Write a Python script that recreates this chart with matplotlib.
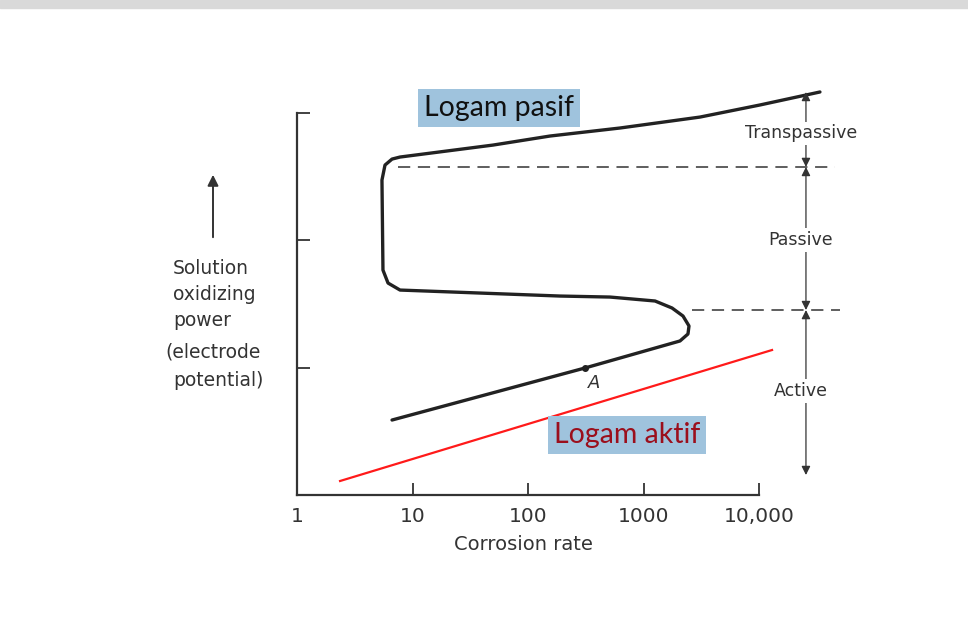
import numpy as np
import matplotlib
matplotlib.use('Agg')
from matplotlib import pyplot as plt
from matplotlib.patches import Rectangle

# polarisation curve (corrosion rate, oxidizing power)
rate = [6.65, 312, 2070, 2427, 2477, 2198, 1766, 1259, 513, 189, 7.8, 6.14,
        5.55, 5.44, 5.78, 6.65, 7.8, 49.8, 155, 626, 3085, 10200, 33700]
potensial = [0.589, 0.998, 1.210, 1.265, 1.328, 1.406, 1.469, 1.524, 1.555,
             1.563, 1.610, 1.665, 1.767, 2.474, 2.592, 2.639, 2.655, 2.749,
             2.82, 2.883, 2.969, 3.064, 3.166]

# garis merah logam aktif
rate_aktif = [2.36, 12970]
potensial_aktif = [0.110, 1.139]

titik_A = (312, 0.998)

# batas daerah
batas_atas = 2.577
batas_bawah = 1.453
x_panah = 25500
daerah = ['Transpassive', 'Passive', 'Active']
daerah_y = [(2.577, 3.166), (1.453, 2.577), (0.157, 1.453)]
daerah_label_y = [2.84, 2.003, 0.817]

xticks = [1, 10, 100, 1000, 10000]
xticklabels = ['1', '10', '100', '1000', '10,000']
yticks = [1, 2, 3]

W, H = 968, 619
fig = plt.figure(figsize=(W / 100, H / 100), dpi=100)
fig.patch.set_facecolor('white')

# pita abu-abu di atas
fig.patches.append(Rectangle((0, 1 - 8 / H), 1, 8 / H, transform=fig.transFigure,
                             color='#d9d9d9', zorder=0))

ax = fig.add_axes([297 / W, (H - 495) / H, 577.5 / W, 432.8 / H])
ax.set_xscale('log')
ax.set_xlim(1, 1e5)
ax.set_ylim(0, 3.4)
ax.patch.set_alpha(0)

for s in ['top', 'right']:
    ax.spines[s].set_visible(False)
ax.spines['left'].set_bounds(0, 3)
ax.spines['bottom'].set_bounds(1, 10000)
for s in ['left', 'bottom']:
    ax.spines[s].set_linewidth(1.6)
    ax.spines[s].set_color('#333333')

ax.xaxis.set_minor_locator(matplotlib.ticker.NullLocator())
ax.set_xticks(xticks)
ax.set_xticklabels(xticklabels)
ax.set_yticks(yticks)
ax.set_yticklabels([])
ax.tick_params(axis='both', direction='in', length=9, width=1.3, color='#333333')
ax.tick_params(axis='x', labelsize=14.5, labelcolor='#333333', pad=9)
fig.text(523 / W, 1 - 545 / H, 'Corrosion rate', fontsize=14, color='#333333',
         ha='center', va='center')

# kurva
ax.plot(rate, potensial, color='#222222', lw=2.4, solid_joinstyle='round',
        solid_capstyle='round', zorder=3)
ax.plot(*titik_A, 'o', color='#222222', ms=4, zorder=4)
ax.text(titik_A[0] * 1.05, titik_A[1] - 0.12, 'A', fontsize=13, style='italic',
        color='#333333', ha='left', va='center')

ax.plot(rate_aktif, potensial_aktif, color='#ff1a1a', lw=1.6, zorder=3,
        clip_on=False)

# garis putus-putus
ax.plot([7.5, 45500], [batas_atas, batas_atas], color='#333333', lw=1.1,
        ls=(0, (8, 5)), clip_on=False)
ax.plot([2630, 50300], [batas_bawah, batas_bawah], color='#333333', lw=1.1,
        ls=(0, (8, 5)), clip_on=False)

# panah daerah
for nama, (y0, y1), yl in zip(daerah, daerah_y, daerah_label_y):
    ax.annotate('', xy=(x_panah, y1), xytext=(x_panah, y0),
                arrowprops=dict(arrowstyle='<|-|>', color='#333333', lw=0.9,
                                mutation_scale=13, shrinkA=0, shrinkB=0),
                annotation_clip=False)
    ax.text(x_panah * 0.9, yl, nama, fontsize=12.5, color='#333333',
            ha='center', va='center', clip_on=False,
            bbox=dict(boxstyle='square,pad=0.15', fc='white', ec='none'))

# label logam
ax.text(56.1, 3.04, 'Logam pasif', fontsize=20.5, family='Lato', color='#111111',
        ha='center', va='center', zorder=5,
        bbox=dict(boxstyle='square,pad=0.2', fc='#9fc3dd', ec='none'))
ax.text(720, 0.471, 'Logam aktif', fontsize=20.5, family='Lato', color='#9b0f1c',
        ha='center', va='center', zorder=5,
        bbox=dict(boxstyle='square,pad=0.2', fc='#9fc3dd', ec='none'))

# label sumbu y
baris = ['Solution', 'oxidizing', 'power', '(electrode', 'potential)']
baris_x = [173, 173, 173, 165, 173]
baris_y = [268, 295, 320, 352, 380]
for t, bx, by in zip(baris, baris_x, baris_y):
    fig.text(bx / W, 1 - by / H, t, fontsize=13.5, color='#333333',
             ha='left', va='center')
fig.patches.append(matplotlib.patches.FancyArrowPatch(
    (213 / W, 1 - 240 / H), (213 / W, 1 - 172 / H), transform=fig.transFigure,
    arrowstyle='-|>', mutation_scale=16, color='#333333', lw=1.4))

fig.savefig('out.png', dpi=100)
